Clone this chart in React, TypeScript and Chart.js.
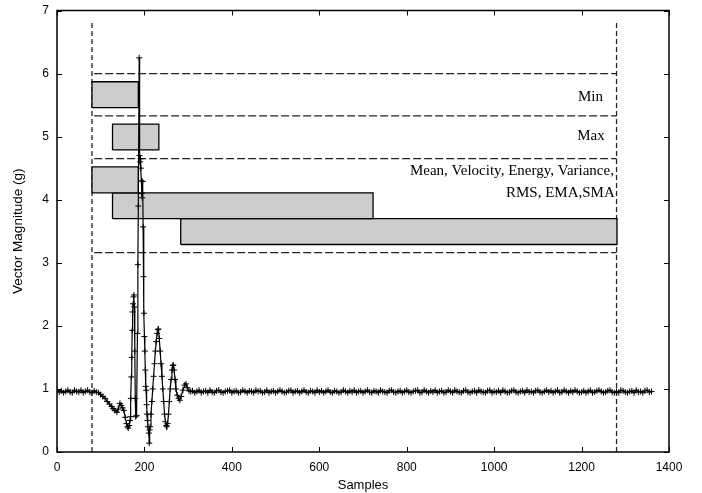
import React, { useEffect, useRef } from "react";
import { Chart, registerables } from "chart.js";
Chart.register(...registerables);

// ---- Data ----
const xTicks = [0, 200, 400, 600, 800, 1000, 1200, 1400];
const yTicks = [0, 1, 2, 3, 4, 5, 6, 7];

// quiet start (sample index step 5 from 0)
const preStart = 0;
const preStep = 5;
const preValues = [0.98, 0.95, 0.97, 0.94, 0.96, 0.98, 0.95, 0.94, 0.98, 0.96, 0.95, 0.98, 0.94, 0.96, 0.98, 0.95, 0.94, 0.97];

// event region [sample, magnitude]
const eventSignal: [number, number][] = [
  [90, 0.95], [95, 0.94], [100, 0.91], [105, 0.88], [110, 0.85], [115, 0.8], [120, 0.76], [125, 0.72],
  [128, 0.69], [132, 0.66], [137, 0.63], [140, 0.68], [144, 0.77], [147, 0.74], [150, 0.7], [153, 0.66],
  [156, 0.55], [159, 0.45], [161, 0.4], [163, 0.38], [165, 0.42], [167, 0.5], [168, 0.56], [169, 0.85],
  [170, 1.19], [171, 1.5], [172, 1.93], [173, 2.22], [174, 2.35], [175, 2.46], [176, 2.49], [177, 2.3],
  [178, 1.6], [179, 0.85], [180, 0.56], [182, 0.58], [184, 1.88], [185, 2.97], [186, 3.9], [188, 6.25],
  [189, 4.7], [190, 4.6], [191, 4.65], [192, 4.5], [193, 4.3], [194, 4.1], [195, 4.03], [196, 4.29],
  [197, 3.57], [198, 2.78], [199, 2.2], [200, 1.83], [201, 1.6], [202, 1.3], [203, 1.04], [204, 0.98],
  [205, 0.75], [206, 0.6], [207, 0.5], [208, 0.4], [210, 0.3], [211, 0.14], [212, 0.35], [213, 0.4],
  [215, 0.6], [217, 0.8], [219, 1.0], [221, 1.2], [223, 1.4], [225, 1.6], [227, 1.75], [229, 1.88],
  [231, 1.94], [232, 1.95], [234, 1.8], [236, 1.6], [238, 1.4], [240, 1.2], [242, 1.0], [244, 0.8],
  [246, 0.6], [248, 0.48], [250, 0.42], [251, 0.4], [253, 0.45], [255, 0.6], [257, 0.8], [259, 1.0],
  [261, 1.15], [263, 1.3], [265, 1.37], [266, 1.38], [268, 1.3], [270, 1.15], [272, 1.0], [275, 0.9],
  [278, 0.85], [281, 0.82], [284, 0.88], [288, 0.98], [292, 1.06], [295, 1.08], [298, 1.02], [302, 0.97],
  [306, 0.96],
];

// quiet end (sample index step 5 from 310)
const postStart = 310;
const postStep = 5;
const postValues = [
  0.97, 0.94, 0.96, 0.98, 0.94, 0.96, 0.97, 0.94, 0.98, 0.95,
  0.94, 0.97, 0.98, 0.95, 0.94, 0.96, 0.97, 0.98, 0.94, 0.96,
  0.97, 0.94, 0.95, 0.98, 0.96, 0.94, 0.97, 0.96, 0.94, 0.98,
  0.96, 0.97, 0.94, 0.95, 0.98, 0.94, 0.96, 0.97, 0.94, 0.96,
  0.98, 0.96, 0.94, 0.95, 0.97, 0.98, 0.94, 0.96, 0.97, 0.94,
  0.96, 0.98, 0.95, 0.94, 0.97, 0.96, 0.94, 0.98, 0.95, 0.97,
  0.94, 0.96, 0.98, 0.95, 0.94, 0.97, 0.96, 0.94, 0.95, 0.98,
  0.96, 0.94, 0.97, 0.95, 0.98, 0.94, 0.96, 0.97, 0.94, 0.96,
  0.98, 0.95, 0.94, 0.97, 0.96, 0.94, 0.98, 0.96, 0.95, 0.94,
  0.97, 0.98, 0.95, 0.94, 0.96, 0.97, 0.94, 0.96, 0.98, 0.95,
  0.94, 0.96, 0.97, 0.98, 0.94, 0.95, 0.98, 0.96, 0.94, 0.97,
  0.95, 0.98, 0.94, 0.96, 0.97, 0.94, 0.95, 0.98, 0.96, 0.94,
  0.98, 0.96, 0.95, 0.94, 0.97, 0.98, 0.95, 0.94, 0.96, 0.97,
  0.94, 0.98, 0.96, 0.95, 0.94, 0.97, 0.98, 0.94, 0.96, 0.95,
  0.97, 0.94, 0.98, 0.96, 0.94, 0.95, 0.97, 0.98, 0.95, 0.94,
  0.96, 0.97, 0.94, 0.98, 0.95, 0.96, 0.94, 0.97, 0.98, 0.95,
  0.94, 0.96, 0.98, 0.95, 0.97, 0.94, 0.96, 0.98, 0.94, 0.95,
  0.98, 0.96, 0.94, 0.97, 0.95, 0.98, 0.96, 0.94, 0.95, 0.97,
  0.94, 0.96, 0.98, 0.94, 0.95, 0.97, 0.98, 0.96, 0.94, 0.95,
  0.97, 0.98, 0.95, 0.94, 0.96, 0.94, 0.98, 0.97, 0.95, 0.94,
  0.96, 0.97, 0.94, 0.98, 0.95, 0.96, 0.94, 0.97, 0.98, 0.95,
  0.96,
];

// feature windows: [xStart, xEnd, yLow, yHigh]
const minWindows: [number, number, number, number][] = [[80, 186, 5.46, 5.87]];
const maxWindows: [number, number, number, number][] = [[127, 233, 4.79, 5.2]];
const meanWindows: [number, number, number, number][] = [
  [80, 186, 4.11, 4.52],
  [127, 723, 3.7, 4.11],
  [283, 1281, 3.29, 3.7],
];

// segment boundaries
const windowStart = 80;
const windowEnd = 1280;
const windowTop = 6.8;
const groupDividers = [6.0, 5.33, 4.65, 3.16];
const dividerStart = 85;

// group labels (right-aligned at x, baseline at y)
const noteTexts = ["Min", "Max", "Mean, Velocity, Energy, Variance,", "RMS, EMA,SMA"];
const noteX = [1249, 1253, 1274, 1276];
const noteY = [5.57, 4.95, 4.39, 4.04];

function rectPoints(w: [number, number, number, number]) {
  const [x0, x1, y0, y1] = w;
  return [
    { x: x0, y: y0 }, { x: x1, y: y0 }, { x: x1, y: y1 }, { x: x0, y: y1 }, { x: x0, y: y0 },
  ];
}

const framePlugin = {
  id: "framePlugin",
  afterDraw(chart: any) {
    const { ctx, chartArea } = chart;
    const xs = chart.scales.x;
    const ys = chart.scales.y;
    const { left, right, top, bottom } = chartArea;
    ctx.save();
    ctx.strokeStyle = "#000";
    ctx.lineWidth = 1.5;
    ctx.strokeRect(left, top, right - left, bottom - top);
    ctx.lineWidth = 1;
    const len = 5;
    ctx.beginPath();
    xTicks.forEach((v) => {
      const px = Math.round(xs.getPixelForValue(v)) + 0.5;
      ctx.moveTo(px, bottom);
      ctx.lineTo(px, bottom - len);
      ctx.moveTo(px, top);
      ctx.lineTo(px, top + len);
    });
    yTicks.forEach((v) => {
      const py = Math.round(ys.getPixelForValue(v)) + 0.5;
      ctx.moveTo(left, py);
      ctx.lineTo(left + len, py);
      ctx.moveTo(right, py);
      ctx.lineTo(right - len, py);
    });
    ctx.stroke();
    ctx.fillStyle = "#000";
    ctx.font = "15px 'Liberation Serif', 'Times New Roman', serif";
    ctx.textAlign = "right";
    ctx.textBaseline = "alphabetic";
    noteTexts.forEach((t, i) => {
      ctx.fillText(t, xs.getPixelForValue(noteX[i]), ys.getPixelForValue(noteY[i]));
    });
    ctx.restore();
  },
};

export default function App() {
  const ref = useRef<HTMLCanvasElement>(null);
  useEffect(() => {
    if (!ref.current) return;
    const signal = [
      ...preValues.map((v, i) => ({ x: preStart + i * preStep, y: v })),
      ...eventSignal.map(([x, y]) => ({ x, y })),
      ...postValues.map((v, i) => ({ x: postStart + i * postStep, y: v })),
    ];
    const rectDs = (w: [number, number, number, number]) => ({
      data: rectPoints(w),
      showLine: true,
      fill: "shape",
      backgroundColor: "#cdcdcd",
      borderColor: "#000",
      borderWidth: 1.3,
      pointRadius: 0,
      tension: 0,
      order: 2,
    });
    const dashDs = (pts: { x: number; y: number }[], dash: number[]) => ({
      data: pts,
      showLine: true,
      fill: false,
      borderColor: "#222",
      borderWidth: 1.3,
      borderDash: dash,
      pointRadius: 0,
      order: 3,
    });
    const datasets: any[] = [
      {
        data: signal,
        showLine: true,
        borderColor: "#000",
        borderWidth: 1.2,
        pointStyle: "cross",
        pointRadius: 3,
        pointBorderColor: "#000",
        pointBorderWidth: 1,
        tension: 0,
        order: 0,
      },
      ...minWindows.map(rectDs),
      ...maxWindows.map(rectDs),
      ...meanWindows.map(rectDs),
      dashDs([{ x: windowStart, y: 0 }, { x: windowStart, y: windowTop }], [5, 3]),
      dashDs([{ x: windowEnd, y: 0 }, { x: windowEnd, y: windowTop }], [5, 3]),
      ...groupDividers.map((y) => dashDs([{ x: dividerStart, y }, { x: windowEnd, y }], [8, 3])),
    ];
    const tickFont = { family: "'Liberation Sans', Arial, sans-serif", size: 12 };
    const titleFont = { family: "'Liberation Sans', Arial, sans-serif", size: 13 };
    const chart = new Chart(ref.current, {
      type: "scatter",
      data: { datasets },
      plugins: [framePlugin],
      options: {
        animation: false,
        responsive: false,
        maintainAspectRatio: false,
        layout: { padding: { top: 10.5, right: 33, left: 0, bottom: 0 } },
        plugins: { legend: { display: false }, tooltip: { enabled: false } },
        scales: {
          x: {
            type: "linear",
            min: 0,
            max: 1400,
            afterBuildTicks: (s: any) => { s.ticks = xTicks.map((v) => ({ value: v })); },
            afterFit: (s: any) => { s.height = 41; s.paddingLeft = 0; s.paddingRight = 0; },
            ticks: { color: "#000", font: tickFont, padding: 8, callback: (v: any) => String(v) },
            grid: { display: false, drawTicks: false },
            border: { display: false },
            title: { display: true, text: "Samples", color: "#000", font: titleFont, padding: { top: 0, bottom: 0 } },
          },
          y: {
            type: "linear",
            min: 0,
            max: 7,
            afterBuildTicks: (s: any) => { s.ticks = yTicks.map((v) => ({ value: v })); },
            afterFit: (s: any) => { s.width = 57; s.paddingTop = 0; s.paddingBottom = 0; },
            ticks: { color: "#000", font: tickFont, padding: 8, callback: (v: any) => String(v) },
            grid: { display: false, drawTicks: false },
            border: { display: false },
            title: { display: true, text: "Vector Magnitude (g)", color: "#000", font: { ...titleFont, size: 13.5 }, padding: { top: 10, bottom: 0 } },
          },
        },
      } as any,
    });
    return () => chart.destroy();
  }, []);
  return (
    <div style={{ position: "absolute", left: 0, top: 0, width: 702, height: 493, background: "#fff" }}>
      <canvas ref={ref} width={702} height={493} style={{ width: 702, height: 493 }} />
    </div>
  );
}
